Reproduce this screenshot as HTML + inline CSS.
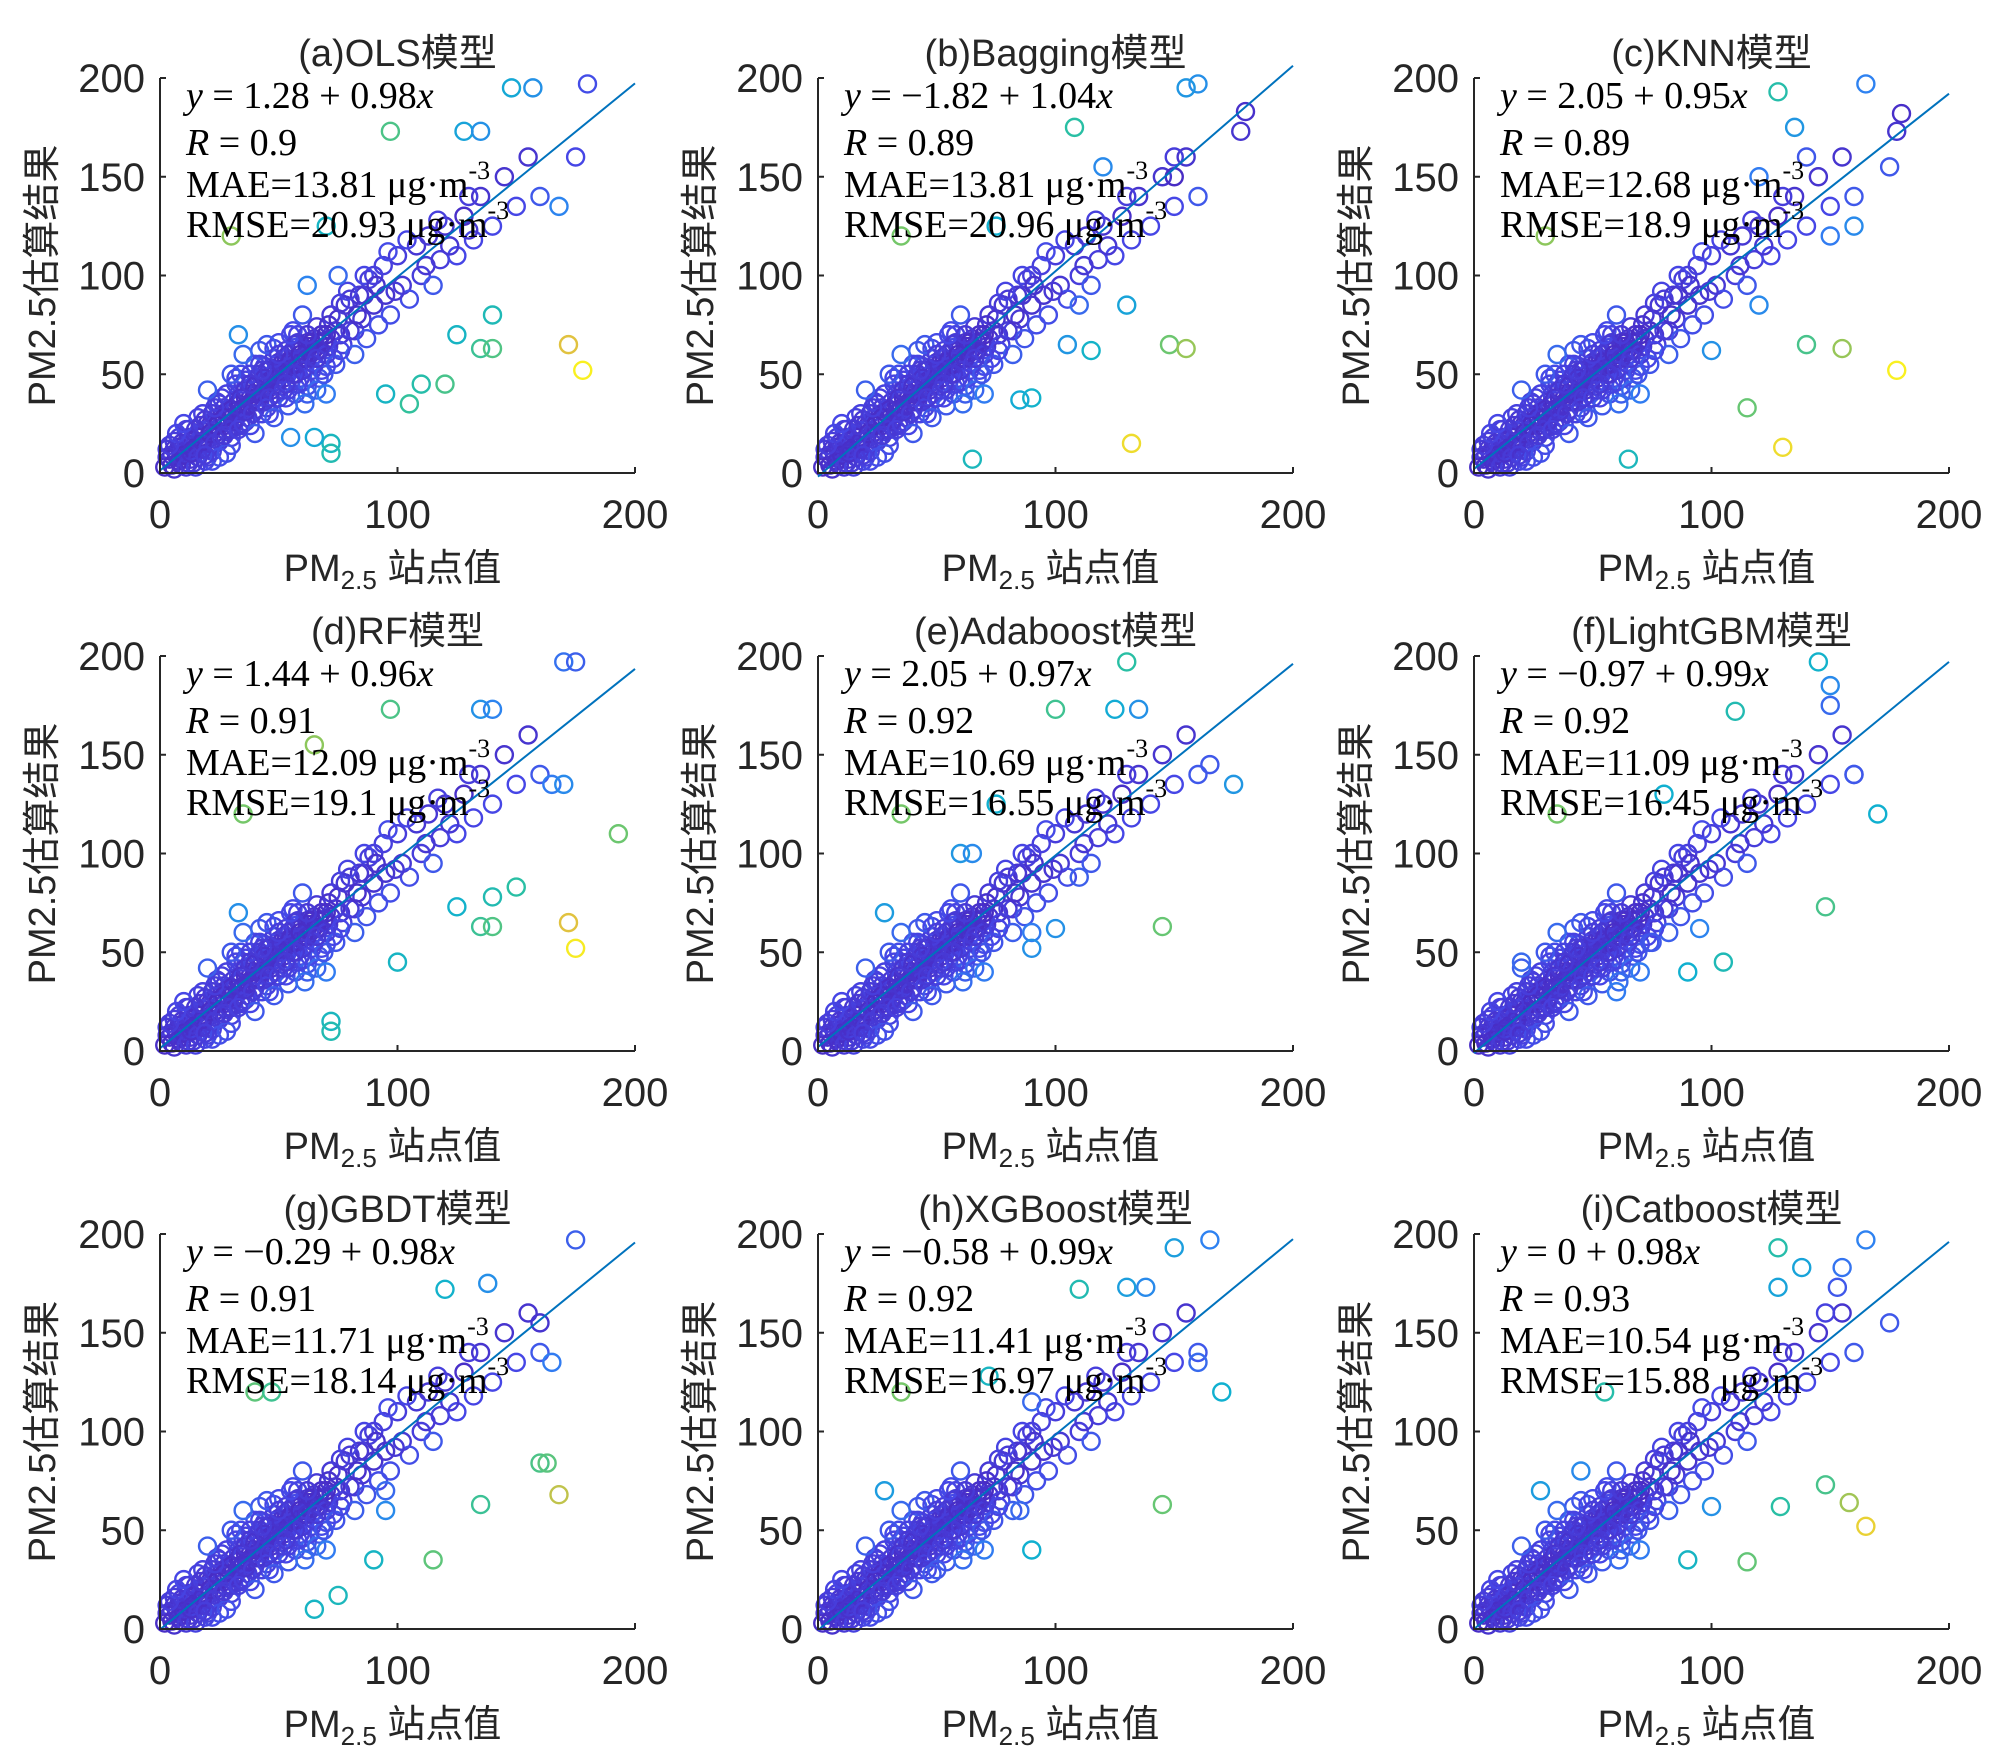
<!DOCTYPE html>
<html><head><meta charset="utf-8"><style>
body{margin:0;background:#fff}
svg{display:block}
text{font-family:"Liberation Sans","Noto Sans CJK SC",sans-serif;fill:#262626}
.ann{font-family:"Liberation Serif","Noto Serif CJK SC",serif;fill:#000;font-size:38px}
</style></head><body>
<svg id="fig" width="2000" height="1759" viewBox="0 0 2000 1759" xmlns="http://www.w3.org/2000/svg"></svg>
<script>
const panelTitles=["(a)OLS模型","(b)Bagging模型","(c)KNN模型","(d)RF模型","(e)Adaboost模型","(f)LightGBM模型","(g)GBDT模型","(h)XGBoost模型","(i)Catboost模型"];
const intercepts=[1.28,-1.82,2.05,1.44,2.05,-0.97,-0.29,-0.58,0];
const slopes=[0.98,1.04,0.95,0.96,0.97,0.99,0.98,0.99,0.98];
const eqText=["y = 1.28 + 0.98x","y = −1.82 + 1.04x","y = 2.05 + 0.95x","y = 1.44 + 0.96x","y = 2.05 + 0.97x","y = −0.97 + 0.99x","y = −0.29 + 0.98x","y = −0.58 + 0.99x","y = 0 + 0.98x"];
const rValues=["0.9","0.89","0.89","0.91","0.92","0.92","0.91","0.92","0.93"];
const maeValues=["13.81","13.81","12.68","12.09","10.69","11.09","11.71","11.41","10.54"];
const rmseValues=["20.93","20.96","18.9","19.1","16.55","16.45","18.14","16.97","15.88"];
const yTickValues=[0,50,100,150,200];
const xTickValues=[0,100,200];
const corePoints=[[3,8],[5,4],[6,12],[8,6],[9,15],[10,9],[12,5],[12,18],[14,12],[15,22],[16,8],[18,16],[19,27],[20,12],[21,20],[22,30],[23,15],[24,24],[25,35],[26,18],[27,28],[28,40],[29,22],[30,32],[31,26],[32,45],[33,30],[34,38],[35,25],[36,42],[37,34],[38,50],[39,30],[40,44],[41,36],[42,55],[43,40],[44,48],[45,33],[46,52],[47,42],[48,58],[49,45],[50,38],[51,55],[52,48],[53,62],[54,42],[55,57],[56,50],[57,65],[58,45],[59,60],[60,52],[61,35],[62,58],[63,48],[64,66],[65,55],[66,42],[67,62],[68,70],[69,50],[70,60],[72,68],[74,55],[75,78],[77,65],[78,85],[80,72],[82,60],[84,90],[85,78],[87,68],[88,98],[90,85],[92,75],[94,105],[95,90],[97,80],[100,110],[102,95],[105,88],[108,115],[110,100],[113,120],[115,95],[118,108],[120,125],[125,110],[128,130],[132,118],[135,140],[140,125],[145,150],[150,135],[155,160],[160,140],[7,20],[15,3],[28,10],[40,20],[20,42],[35,60],[48,28],[60,80],[30,50],[55,70],[70,40],[45,65],[25,8],[10,25],[4,14],[11,3],[17,24],[13,10],[19,9],[23,33],[27,19],[33,22],[36,31],[38,45],[43,52],[46,38],[50,60],[53,45],[57,50],[62,70],[66,58],[71,75],[76,62],[79,92],[83,80],[86,100],[91,95],[96,112],[99,92],[104,118],[112,105],[117,128],[122,115],[130,140]];
const densePoints=[[2,3],[4,7],[6,2],[7,9],[8,13],[9,4],[11,11],[12,14],[13,7],[14,17],[15,11],[16,19],[17,13],[18,21],[19,6],[20,17],[21,24],[22,11],[23,20],[24,28],[25,16],[26,25],[27,33],[28,21],[29,30],[30,18],[31,36],[32,28],[33,40],[34,24],[35,33],[36,47],[37,28],[38,38],[39,44],[40,32],[41,48],[42,36],[43,30],[44,54],[45,42],[46,46],[47,36],[48,50],[49,40],[50,56],[51,44],[52,58],[53,38],[54,52],[55,46],[56,62],[57,40],[58,55],[59,48],[60,64],[61,56],[62,44],[63,60],[64,52],[65,68],[66,62],[67,48],[68,58],[69,66],[70,54],[71,64],[73,58],[74,72],[76,70],[14,5],[18,30],[22,6],[26,38],[30,14],[34,50],[38,24],[42,62],[46,30],[50,66],[54,34],[58,70],[62,40],[66,74],[20,25],[24,19],[28,31],[32,34],[36,38],[40,40],[44,42],[48,46],[52,53],[56,55],[60,58],[64,61],[10,14],[16,15],[26,29],[31,31],[39,37],[43,46],[47,49],[51,50],[55,52],[59,62],[63,64],[67,66],[5,9],[9,7],[13,16],[17,18],[21,15],[25,26],[29,27],[33,35],[37,40],[41,42],[45,47],[49,52],[53,56],[57,58],[61,60],[65,63],[8,18],[12,22],[16,28],[24,36],[32,48],[40,55],[48,63],[56,72],[20,8],[30,22],[36,26],[44,36],[52,42],[60,46],[68,52],[35,45],[42,50],[58,66],[72,80],[80,88],[76,86],[82,72],[86,90],[90,100],[6,16],[3,12],[11,22],[18,12],[27,24],[34,31],[45,52],[54,60],[62,66],[70,70]];
const outliersA=[[148,195],[157,195],[180,197],[97,173],[128,173],[135,173],[175,160],[168,135],[130,123],[30,120],[70,125],[75,100],[140,80],[125,70],[135,63],[140,63],[172,65],[178,52],[110,45],[120,45],[95,40],[105,35],[72,15],[72,10],[55,18],[65,18],[33,70],[62,95]];
const outliersB=[[160,197],[155,195],[180,183],[178,173],[108,175],[150,160],[150,150],[120,155],[35,120],[75,125],[130,85],[148,65],[155,63],[132,15],[90,38],[85,37],[65,7],[110,85],[115,62],[105,65]];
const outliersC=[[165,197],[128,193],[180,182],[178,173],[175,155],[140,160],[135,175],[120,150],[160,125],[30,120],[140,65],[155,63],[178,52],[130,13],[115,33],[65,7],[120,85],[150,120],[100,62]];
const outliersD=[[170,197],[175,197],[97,173],[135,173],[140,173],[165,135],[170,135],[65,155],[35,120],[193,110],[150,83],[140,78],[135,63],[140,63],[172,65],[175,52],[125,73],[100,45],[72,15],[72,10],[33,70]];
const outliersE=[[130,197],[100,173],[125,173],[135,173],[175,135],[165,145],[35,120],[75,125],[145,63],[90,60],[90,52],[110,88],[60,100],[28,70],[65,100],[100,62]];
const outliersF=[[145,197],[110,172],[150,185],[150,175],[170,120],[160,140],[35,120],[80,130],[148,73],[105,45],[95,62],[60,30],[75,55],[90,40],[20,45]];
const outliersG=[[175,197],[120,172],[138,175],[160,155],[165,135],[40,120],[47,120],[160,84],[163,84],[168,68],[135,63],[115,35],[65,10],[75,17],[90,35],[95,60],[95,70]];
const outliersH=[[165,197],[150,193],[110,172],[130,173],[138,173],[170,120],[160,135],[35,120],[72,128],[145,63],[90,40],[85,60],[50,30],[28,70],[90,115]];
const outliersI=[[165,197],[128,193],[155,183],[138,183],[128,173],[153,173],[175,155],[148,160],[55,120],[148,73],[158,64],[129,62],[165,52],[115,34],[90,35],[28,70],[45,80],[100,62]];
const outlierSets=[outliersA,outliersB,outliersC,outliersD,outliersE,outliersF,outliersG,outliersH,outliersI];

const NS="http://www.w3.org/2000/svg";
const svg=document.getElementById('fig');
const colX=[160,818,1474], rowY=[473,1051,1629], W=475, H=395;
const stops=[[0,[72,44,196]],[0.12,[70,70,230]],[0.25,[47,128,242]],[0.4,[16,176,208]],[0.55,[44,192,160]],[0.7,[128,200,96]],[0.85,[224,192,64]],[1,[249,240,32]]];
function cmap(t){t=Math.max(0,Math.min(1,t));for(let i=1;i<stops.length;i++){if(t<=stops[i][0]){const a=stops[i-1],b=stops[i];const f=(t-a[0])/(b[0]-a[0]);const c=a[1].map((v,k)=>Math.round(v+(b[1][k]-v)*f));return `rgb(${c[0]},${c[1]},${c[2]})`;}}return 'rgb(249,240,32)';}
function el(tag,attrs,parent){const e=document.createElementNS(NS,tag);for(const k in attrs)e.setAttribute(k,attrs[k]);(parent||svg).appendChild(e);return e;}

for(let p=0;p<9;p++){
  const x0=colX[p%3], y0=rowY[Math.floor(p/3)];
  const sx=v=>x0+v/200*W, sy=v=>y0-v/200*H;
  const g=el('g',{});
  
  
  const pts=densePoints.concat(corePoints).concat(outlierSets[p]);
  pts.forEach(pt=>{
    const r=Math.abs(pt[1]-pt[0]);
    const c=el('circle',{cx:sx(pt[0]),cy:sy(pt[1]),r:8.5,fill:'none',stroke:cmap(r/125),'stroke-width':2.4},g);
    
    
  });
  const fl=el('line',{x1:sx(0),y1:sy(intercepts[p]),x2:sx(200),y2:sy(intercepts[p]+slopes[p]*200),stroke:'#0072BD','stroke-width':2},g);
  
  
  const ax=el('path',{d:`M${x0} ${y0-H}V${y0}H${x0+W}`,fill:'none',stroke:'#262626','stroke-width':2},g);
  
  
  xTickValues.forEach(t=>{
    el('line',{x1:sx(t),y1:y0,x2:sx(t),y2:y0-6,stroke:'#262626','stroke-width':2},g);
    const tx=el('text',{x:sx(t),y:y0+55,'text-anchor':'middle','font-size':40},g);tx.textContent=t;
    
    
  });
  yTickValues.forEach(t=>{
    el('line',{x1:x0,y1:sy(t),x2:x0+6,y2:sy(t),stroke:'#262626','stroke-width':2},g);
    const ty=el('text',{x:x0-15,y:sy(t)+14,'text-anchor':'end','font-size':40},g);ty.textContent=t;
    
    
  });
  const tt=el('text',{x:x0+W/2,y:y0-H-12,'text-anchor':'middle','font-size':38},g);tt.textContent=panelTitles[p];
  
  
  const xl=el('text',{x:x0+W/2-5,y:y0+108,'text-anchor':'middle','font-size':38},g);
  xl.innerHTML='PM<tspan font-size="26" dy="8">2.5</tspan><tspan dy="-8"> 站点值</tspan>';
  
  
  const yl=el('text',{x:0,y:0,'text-anchor':'middle','font-size':38,transform:`translate(${x0-105},${y0-H/2}) rotate(-90)`},g);yl.textContent='PM2.5估算结果';
  
  
  const ay=y0-H;
  const e1=el('text',{x:x0+26,y:ay+30,'class':'ann'},g);
  e1.innerHTML=eqText[p].replace('y','<tspan font-style="italic">y</tspan>').replace(/x$/,'<tspan font-style="italic">x</tspan>');
  
  
  const e2=el('text',{x:x0+26,y:ay+77,'class':'ann'},g);
  e2.innerHTML='<tspan font-style="italic">R</tspan> = '+rValues[p];
  
  
  const e3=el('text',{x:x0+26,y:ay+119,'class':'ann'},g);
  e3.innerHTML='MAE='+maeValues[p]+' μg·m<tspan font-size="26" dy="-18">-3</tspan>';
  
  
  const e4=el('text',{x:x0+26,y:ay+159,'class':'ann'},g);
  e4.innerHTML='RMSE='+rmseValues[p]+' μg·m<tspan font-size="26" dy="-18">-3</tspan>';
  
  
}
</script>
</body></html>
